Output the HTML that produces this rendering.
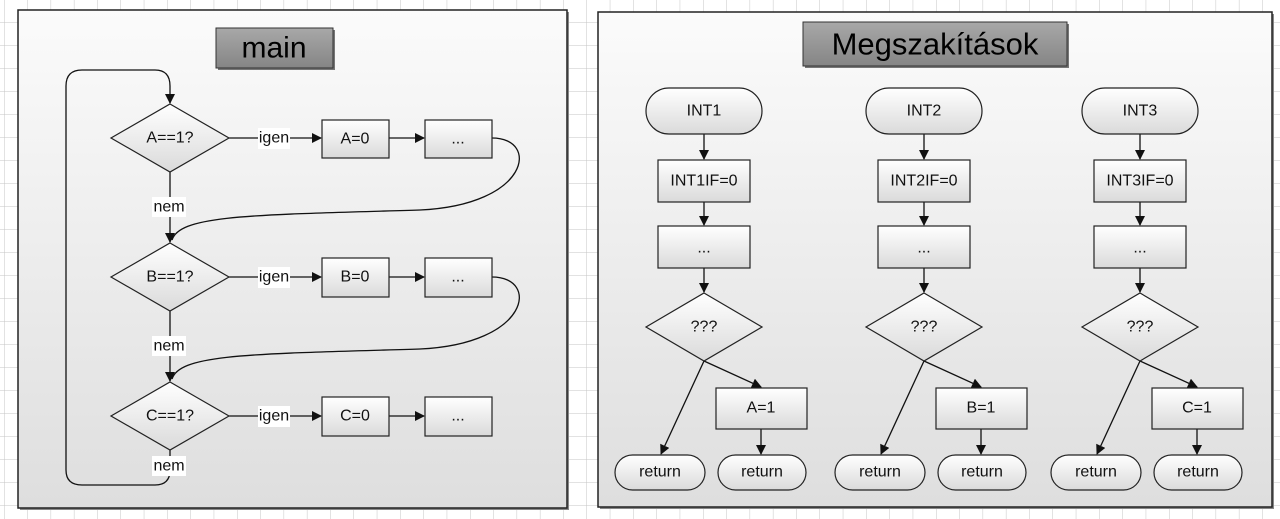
<!DOCTYPE html>
<html><head><meta charset="utf-8"><style>
html,body{margin:0;padding:0;background:#fff}
svg{display:block}
text{font-family:"Liberation Sans",sans-serif;font-size:16px;fill:#111;text-anchor:middle;dominant-baseline:central}
</style></head><body>
<svg width="1280" height="519" viewBox="0 0 1280 519" xmlns="http://www.w3.org/2000/svg">
<defs>
<pattern id="grid" width="23.3" height="23" patternUnits="userSpaceOnUse" x="4" y="-1">
<path d="M0 0H23.3M0 0V23" fill="none" stroke="#c4c4c4" stroke-width="1"/>
</pattern>
<linearGradient id="pan" x1="0" y1="0" x2="0" y2="1"><stop offset="0" stop-color="#fbfbfb"/><stop offset="1" stop-color="#dedede"/></linearGradient>
<linearGradient id="nd" x1="0" y1="0" x2="0" y2="1"><stop offset="0" stop-color="#ffffff"/><stop offset="1" stop-color="#dadada"/></linearGradient>
<linearGradient id="tt" x1="0" y1="0" x2="0" y2="1"><stop offset="0" stop-color="#a8a8a8"/><stop offset="1" stop-color="#858585"/></linearGradient>
<marker id="ar" markerWidth="10" markerHeight="10" refX="9" refY="5" orient="auto" markerUnits="userSpaceOnUse"><path d="M0 0L10 5L0 10z" fill="#111"/></marker>
</defs>
<rect width="1280" height="519" fill="#fff"/>
<rect width="1280" height="519" fill="url(#grid)"/>
<rect x="20" y="12" width="549" height="498" fill="#888"/>
<rect x="18" y="10" width="549" height="498" fill="url(#pan)" stroke="#222" stroke-width="1.5"/>
<rect x="600" y="14" width="674" height="495" fill="#888"/>
<rect x="598" y="12" width="674" height="495" fill="url(#pan)" stroke="#222" stroke-width="1.5"/>
<rect x="218" y="30" width="117" height="40" fill="#777"/>
<rect x="216" y="28" width="117" height="40" fill="url(#tt)" stroke="#333"/>
<text x="274" y="48" style="font-size:30px;fill:#000">main</text>
<rect x="805" y="24" width="264" height="44" fill="#777"/>
<rect x="803" y="22" width="264" height="44" fill="url(#tt)" stroke="#333"/>
<text x="935" y="44" style="font-size:31px;fill:#000">Megszakítások</text>

<g stroke="#111" stroke-width="1.3" fill="none">
<path d="M170 450V470Q170 485 155 485H82Q66 485 66 470V86Q66 70 82 70H155Q170 70 170 86V103" marker-end="url(#ar)"/>
<path d="M170 172V242" marker-end="url(#ar)"/>
<path d="M170 311V381" marker-end="url(#ar)"/>
<path d="M492 138C540 138 530 205 420 210C250 215 180 215 172 240"/>
<path d="M492 277C540 277 530 344 420 349C250 354 180 354 172 379"/>
<path d="M229 138H321" marker-end="url(#ar)"/>
<path d="M389 138H424" marker-end="url(#ar)"/>
<path d="M229 277H321" marker-end="url(#ar)"/>
<path d="M389 277H424" marker-end="url(#ar)"/>
<path d="M229 416H321" marker-end="url(#ar)"/>
<path d="M389 416H424" marker-end="url(#ar)"/>
</g>
<g stroke="#222" stroke-width="1.2" fill="url(#nd)">
<polygon points="170,104 229,138 170,172 111,138"/>
<polygon points="170,243 229,277 170,311 111,277"/>
<polygon points="170,382 229,416 170,450 111,416"/>
<rect x="322" y="120" width="67" height="38"/><rect x="425" y="120" width="67" height="38"/>
<rect x="322" y="258" width="67" height="39"/><rect x="425" y="258" width="67" height="39"/>
<rect x="322" y="397" width="67" height="39"/><rect x="425" y="397" width="67" height="39"/>
</g>
<g fill="#fff">
<rect x="258" y="128" width="32" height="21"/><rect x="258" y="267" width="32" height="21"/><rect x="258" y="406" width="32" height="21"/>
<rect x="152" y="197" width="34" height="20"/><rect x="152" y="336" width="34" height="20"/><rect x="152" y="456" width="34" height="20"/>
</g>
<text x="274" y="138">igen</text><text x="274" y="277">igen</text><text x="274" y="416">igen</text>
<text x="169" y="207">nem</text><text x="169" y="346">nem</text><text x="169" y="466">nem</text>
<text x="170" y="138">A==1?</text><text x="170" y="277">B==1?</text><text x="170" y="416">C==1?</text>
<text x="355" y="139">A=0</text><text x="355" y="277">B=0</text><text x="355" y="416">C=0</text>
<text x="458" y="139">...</text><text x="458" y="277">...</text><text x="458" y="416">...</text>

<g>
<g stroke="#111" stroke-width="1.3" fill="none">
<path d="M704 134V159" marker-end="url(#ar)"/><path d="M704 202V225" marker-end="url(#ar)"/>
<path d="M704 268V292" marker-end="url(#ar)"/><path d="M704 361L661 454" marker-end="url(#ar)"/>
<path d="M704 361L761 387" marker-end="url(#ar)"/><path d="M761 429V454" marker-end="url(#ar)"/>
</g>
<g stroke="#222" stroke-width="1.2" fill="url(#nd)">
<rect x="646" y="88" width="116" height="46" rx="23"/><rect x="658" y="160" width="92" height="42"/>
<rect x="658" y="226" width="92" height="42"/><polygon points="704,293 762,327 704,361 646,327"/>
<rect x="716" y="388" width="91" height="41"/><rect x="615" y="455" width="90" height="35" rx="17.5"/>
<rect x="718" y="455" width="88" height="35" rx="17.5"/>
</g>
<text x="704" y="111">INT1</text><text x="704" y="181">INT1IF=0</text><text x="704" y="248">...</text>
<text x="704" y="327">???</text><text x="761" y="408">A=1</text>
<text x="660" y="472">return</text><text x="762" y="472">return</text>
</g>
<g transform="translate(220,0)">
<g stroke="#111" stroke-width="1.3" fill="none">
<path d="M704 134V159" marker-end="url(#ar)"/><path d="M704 202V225" marker-end="url(#ar)"/>
<path d="M704 268V292" marker-end="url(#ar)"/><path d="M704 361L661 454" marker-end="url(#ar)"/>
<path d="M704 361L761 387" marker-end="url(#ar)"/><path d="M761 429V454" marker-end="url(#ar)"/>
</g>
<g stroke="#222" stroke-width="1.2" fill="url(#nd)">
<rect x="646" y="88" width="116" height="46" rx="23"/><rect x="658" y="160" width="92" height="42"/>
<rect x="658" y="226" width="92" height="42"/><polygon points="704,293 762,327 704,361 646,327"/>
<rect x="716" y="388" width="91" height="41"/><rect x="615" y="455" width="90" height="35" rx="17.5"/>
<rect x="718" y="455" width="88" height="35" rx="17.5"/>
</g>
<text x="704" y="111">INT2</text><text x="704" y="181">INT2IF=0</text><text x="704" y="248">...</text>
<text x="704" y="327">???</text><text x="761" y="408">B=1</text>
<text x="660" y="472">return</text><text x="762" y="472">return</text>
</g>
<g transform="translate(436,0)">
<g stroke="#111" stroke-width="1.3" fill="none">
<path d="M704 134V159" marker-end="url(#ar)"/><path d="M704 202V225" marker-end="url(#ar)"/>
<path d="M704 268V292" marker-end="url(#ar)"/><path d="M704 361L661 454" marker-end="url(#ar)"/>
<path d="M704 361L761 387" marker-end="url(#ar)"/><path d="M761 429V454" marker-end="url(#ar)"/>
</g>
<g stroke="#222" stroke-width="1.2" fill="url(#nd)">
<rect x="646" y="88" width="116" height="46" rx="23"/><rect x="658" y="160" width="92" height="42"/>
<rect x="658" y="226" width="92" height="42"/><polygon points="704,293 762,327 704,361 646,327"/>
<rect x="716" y="388" width="91" height="41"/><rect x="615" y="455" width="90" height="35" rx="17.5"/>
<rect x="718" y="455" width="88" height="35" rx="17.5"/>
</g>
<text x="704" y="111">INT3</text><text x="704" y="181">INT3IF=0</text><text x="704" y="248">...</text>
<text x="704" y="327">???</text><text x="761" y="408">C=1</text>
<text x="660" y="472">return</text><text x="762" y="472">return</text>
</g>
</svg>
</body></html>
